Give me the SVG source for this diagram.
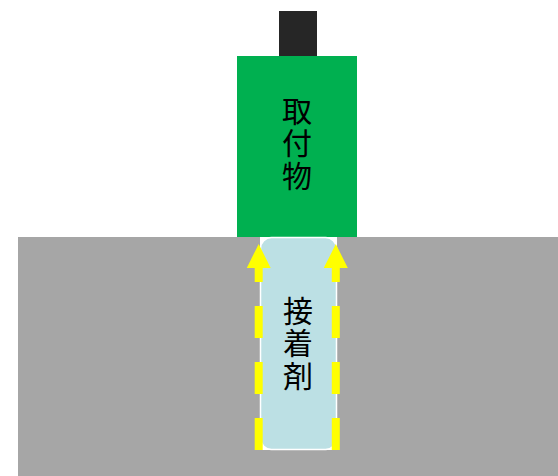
<svg xmlns="http://www.w3.org/2000/svg" width="558" height="476" viewBox="0 0 558 476">
  <style>
    .label { font-family: "Noto Sans CJK JP", "Noto Sans CJK SC", sans-serif; font-size: 30px; fill: #000000; writing-mode: vertical-rl; letter-spacing: 2.5px; }
    .flow { fill: none; stroke: #FFFF00; stroke-width: 8; stroke-dasharray: 32 24; }
  </style>
  <defs>
    <marker id="arrow" viewBox="0 0 24 24" markerWidth="24" markerHeight="24" markerUnits="userSpaceOnUse" refX="0" refY="12" orient="auto">
      <path d="M0,0 L24,12 L0,24 Z" fill="#FFFF00"/>
    </marker>
  </defs>
  <g id="base">
    <rect x="18" y="237" width="540" height="239" fill="#A6A6A6"/>
    <rect x="260" y="237" width="77" height="213" fill="#FFFFFF"/>
  </g>
  <g id="bolt">
    <rect x="279" y="11" width="38" height="45" fill="#262626"/>
  </g>
  <g id="attachment">
    <rect x="237" y="56" width="120" height="181" fill="#00B050"/>
    <text class="label" x="297" y="95.6">取付物</text>
  </g>
  <g id="adhesive">
    <rect x="260.5" y="237.5" width="76" height="212" rx="11" ry="11" fill="#BCE0E4" stroke="#FFFFFF" stroke-width="1.5"/>
    <text class="label" x="298" y="295.6">接着剤</text>
  </g>
  <g id="connectors">
    <path class="flow" d="M258.7,450 L258.7,268" marker-end="url(#arrow)"/>
    <path class="flow" d="M335.8,450 L335.8,268" marker-end="url(#arrow)"/>
  </g>
</svg>
